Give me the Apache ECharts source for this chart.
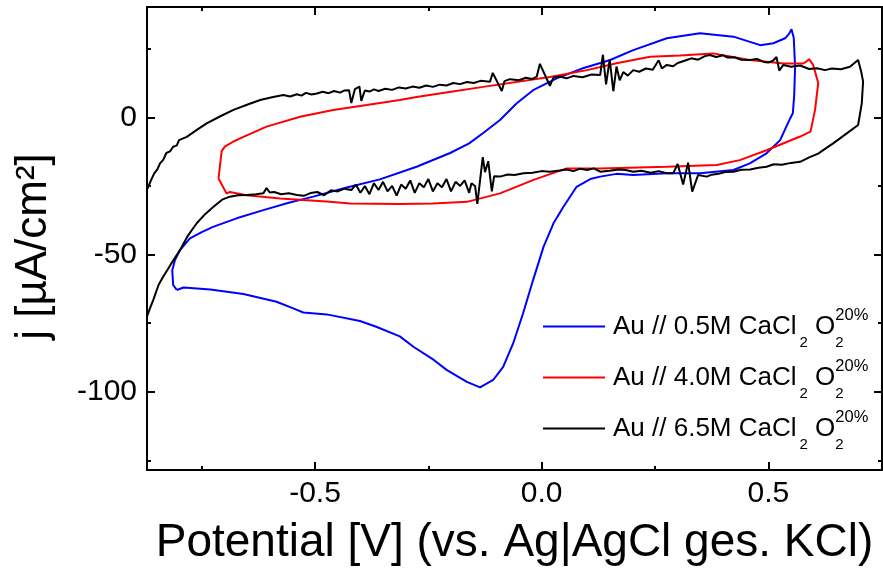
<!DOCTYPE html>
<html>
<head>
<meta charset="utf-8">
<script src="https://cdn.jsdelivr.net/npm/echarts@6/dist/echarts.min.js"></script>
<style>
  html, body { margin: 0; padding: 0; background: #fff; }
  #chart { width: 883px; height: 575px; }
</style>
</head>
<body>
<div id="chart"></div>
<script>
// axis ranges and ticks
const xRange = [-0.8707, 0.7507];
const yRange = [-128.5, 40.2];
const xMajor = [-0.5, 0, 0.5];
const xMinor = [-0.75, -0.25, 0.25, 0.75];
const yMajor = [-100, -50, 0];
const yMinor = [-125, -75, -25, 25];

const seriesNames = ["0.5M", "4.0M", "6.5M"];
const seriesColors = ["#0000ff", "#ff0000", "#000000"];

// [potential V, j µA/cm²] in scan order
// Au // 0.5M CaCl2
const blue = [
  [-0.805, -62.9], [-0.813, -61.1], [-0.815, -55.7], [-0.809, -52.0], [-0.798, -48.4], [-0.776, -44.1],
  [-0.750, -41.8], [-0.725, -39.9], [-0.673, -36.8], [-0.614, -33.8], [-0.560, -31.2], [-0.504, -28.9],
  [-0.430, -25.6], [-0.357, -22.6], [-0.276, -18.0], [-0.202, -13.0], [-0.160, -9.5], [-0.129, -5.7],
  [-0.092, -1.0], [-0.055, 5.1], [-0.019, 9.9], [0.033, 14.2], [0.091, 17.9], [0.151, 20.9],
  [0.202, 24.5], [0.276, 28.8], [0.349, 30.6], [0.423, 29.4], [0.482, 26.3], [0.511, 27.0],
  [0.537, 28.8], [0.546, 30.5], [0.551, 32.1], [0.556, 29.0], [0.559, 18.4], [0.557, 8.0],
  [0.554, 1.5], [0.548, -0.4], [0.526, -8.3], [0.496, -13.1], [0.459, -16.8], [0.423, -19.2],
  [0.349, -20.4], [0.276, -20.4], [0.202, -21.0], [0.165, -20.6], [0.129, -21.6], [0.107, -22.5],
  [0.077, -25.3], [0.048, -32.6], [0.026, -38.6], [0.004, -47.2], [-0.019, -59.3], [-0.041, -71.4],
  [-0.063, -82.4], [-0.085, -90.9], [-0.107, -95.7], [-0.136, -98.4], [-0.165, -96.4], [-0.209, -92.1],
  [-0.238, -88.4], [-0.283, -83.6], [-0.313, -79.8], [-0.365, -76.3], [-0.401, -74.2], [-0.474, -71.8],
  [-0.526, -71.1], [-0.548, -69.6], [-0.585, -67.2], [-0.658, -64.4], [-0.731, -62.7], [-0.790, -62.0],
  [-0.805, -62.9],
];

// Au // 4.0M CaCl2
const red = [
  [-0.713, -22.3], [-0.706, -12.3], [-0.699, -10.7], [-0.680, -8.8], [-0.658, -7.1], [-0.607, -3.4],
  [-0.533, 0.2], [-0.460, 2.7], [-0.386, 4.5], [-0.313, 6.3], [-0.276, 7.4], [-0.200, 9.3],
  [-0.129, 11.1], [0.018, 14.7], [0.100, 17.2], [0.165, 19.7], [0.239, 22.1], [0.305, 22.5],
  [0.378, 23.3], [0.459, 20.9], [0.533, 19.6], [0.577, 19.6], [0.585, 20.5], [0.590, 21.2],
  [0.599, 19.0], [0.610, 12.5], [0.603, 2.7], [0.593, -5.2], [0.570, -7.0], [0.496, -12.0],
  [0.437, -15.6], [0.386, -17.4], [0.276, -18.0], [0.129, -18.6], [0.055, -18.6], [-0.018, -22.8],
  [-0.092, -27.7], [-0.165, -30.8], [-0.240, -31.4], [-0.313, -31.6], [-0.423, -31.4], [-0.467, -30.8],
  [-0.577, -29.6], [-0.651, -28.4], [-0.688, -27.2], [-0.695, -27.8], [-0.713, -22.3],
];

// Au // 6.5M CaCl2
const black = [
  [-0.878, -30.0], [-0.871, -26.5], [-0.862, -23.0], [-0.855, -20.5], [-0.848, -19.0], [-0.842, -16.8],
  [-0.835, -15.5], [-0.828, -13.0], [-0.820, -12.4], [-0.813, -10.7], [-0.805, -10.2], [-0.800, -8.3],
  [-0.783, -7.1], [-0.760, -4.5], [-0.739, -2.2], [-0.710, 0.3], [-0.680, 2.7], [-0.650, 4.6],
  [-0.621, 6.3], [-0.595, 7.3], [-0.570, 8.1], [-0.555, 7.6], [-0.540, 8.4], [-0.530, 7.9],
  [-0.520, 8.9], [-0.508, 8.3], [-0.496, 8.7], [-0.483, 9.3], [-0.470, 8.8], [-0.458, 9.6],
  [-0.445, 9.0], [-0.435, 9.8], [-0.425, 9.9], [-0.420, 5.2], [-0.412, 10.3], [-0.402, 11.2],
  [-0.398, 6.0], [-0.390, 9.8], [-0.380, 9.4], [-0.370, 10.2], [-0.360, 9.6], [-0.345, 10.4],
  [-0.330, 10.0], [-0.315, 10.9], [-0.300, 10.5], [-0.285, 11.2], [-0.270, 10.8], [-0.255, 11.6],
  [-0.240, 11.1], [-0.225, 11.9], [-0.210, 11.6], [-0.195, 12.5], [-0.180, 12.1], [-0.165, 12.9],
  [-0.150, 12.5], [-0.135, 13.3], [-0.114, 13.0], [-0.108, 16.2], [-0.088, 9.6], [-0.082, 13.2],
  [-0.070, 13.9], [-0.050, 13.5], [-0.035, 14.4], [-0.020, 14.0], [-0.011, 14.8], [-0.004, 19.5],
  [0.018, 11.5], [0.026, 14.5], [0.040, 14.9], [0.055, 14.2], [0.070, 15.1], [0.090, 14.6],
  [0.110, 15.6], [0.129, 15.4], [0.135, 22.8], [0.142, 12.0], [0.150, 21.0], [0.158, 9.5],
  [0.165, 18.5], [0.172, 13.5], [0.180, 16.5], [0.190, 15.2], [0.202, 17.2], [0.215, 16.6],
  [0.230, 17.8], [0.245, 17.3], [0.258, 20.8], [0.265, 17.8], [0.276, 19.1], [0.290, 18.6],
  [0.300, 19.8], [0.315, 20.6], [0.330, 21.5], [0.345, 21.0], [0.360, 22.3], [0.371, 22.7],
  [0.385, 22.0], [0.400, 22.6], [0.410, 21.8], [0.425, 21.9], [0.440, 21.0], [0.459, 20.9],
  [0.475, 21.3], [0.490, 20.2], [0.500, 20.0], [0.510, 20.6], [0.518, 22.0], [0.524, 17.0],
  [0.533, 19.1], [0.550, 18.4], [0.570, 18.9], [0.590, 17.6], [0.607, 17.9], [0.625, 17.2],
  [0.640, 17.8], [0.660, 17.5], [0.680, 18.4], [0.698, 20.9], [0.705, 16.5], [0.709, 13.0],
  [0.706, 5.0], [0.698, -2.8], [0.670, -6.2], [0.643, -9.5], [0.625, -11.5], [0.610, -13.2],
  [0.590, -14.6], [0.570, -16.2], [0.550, -16.6], [0.530, -17.3], [0.512, -17.1], [0.496, -18.0],
  [0.478, -18.4], [0.460, -19.0], [0.440, -19.1], [0.423, -19.8], [0.405, -19.9], [0.390, -20.6],
  [0.375, -20.9], [0.364, -21.6], [0.345, -21.0], [0.332, -27.1], [0.323, -16.5], [0.312, -24.5],
  [0.300, -17.0], [0.290, -20.4], [0.276, -20.4], [0.258, -19.6], [0.240, -20.2], [0.220, -19.5],
  [0.202, -19.8], [0.185, -19.2], [0.170, -19.0], [0.150, -19.5], [0.129, -19.8], [0.115, -18.6],
  [0.100, -19.2], [0.085, -18.7], [0.070, -19.6], [0.055, -19.0], [0.040, -19.4], [0.018, -19.8],
  [0.000, -19.6], [-0.020, -20.2], [-0.040, -20.4], [-0.060, -21.0], [-0.075, -20.8], [-0.092, -21.6],
  [-0.105, -21.5], [-0.110, -27.0], [-0.118, -16.0], [-0.125, -20.0], [-0.130, -14.5], [-0.142, -31.5],
  [-0.147, -25.0], [-0.155, -24.0], [-0.160, -27.5], [-0.170, -23.0], [-0.180, -25.0], [-0.190, -23.5],
  [-0.200, -27.0], [-0.210, -22.5], [-0.220, -25.5], [-0.230, -24.0], [-0.240, -27.0], [-0.250, -22.5],
  [-0.260, -25.5], [-0.270, -24.0], [-0.280, -27.5], [-0.290, -23.0], [-0.300, -26.0], [-0.310, -24.5],
  [-0.320, -28.5], [-0.330, -25.0], [-0.340, -27.0], [-0.350, -23.5], [-0.360, -26.5], [-0.370, -24.0],
  [-0.380, -28.0], [-0.390, -25.0], [-0.400, -27.5], [-0.410, -24.5], [-0.420, -26.5], [-0.435, -26.0],
  [-0.450, -27.0], [-0.465, -26.6], [-0.480, -28.4], [-0.495, -27.2], [-0.510, -27.6], [-0.525, -28.6],
  [-0.540, -28.3], [-0.558, -27.7], [-0.575, -28.0], [-0.590, -27.2], [-0.600, -27.4], [-0.607, -25.8],
  [-0.614, -27.7], [-0.630, -28.0], [-0.650, -28.3], [-0.670, -28.4], [-0.688, -28.9], [-0.705, -30.0],
  [-0.724, -32.6], [-0.742, -35.2], [-0.761, -38.6], [-0.780, -43.0], [-0.798, -48.4], [-0.818, -53.5],
  [-0.835, -58.1], [-0.845, -61.0], [-0.857, -66.6], [-0.864, -69.5], [-0.871, -72.7], [-0.878, -76.0],
];

const FONT = "'Liberation Sans', Arial, sans-serif";

function axis(kind, position, ticks, tickLen, withLine, extra) {
  const range = kind === "x" ? xRange : yRange;
  return Object.assign({
    type: "value",
    position,
    min: range[0],
    max: range[1],
    axisLine: { show: withLine, onZero: false, lineStyle: { color: "#000", width: 2 } },
    axisTick: { show: true, inside: true, length: tickLen, customValues: ticks, lineStyle: { color: "#000", width: 2 } },
    axisLabel: { show: false },
    splitLine: { show: false },
  }, extra || {});
}

const txt = { fontFamily: FONT, color: "#000" };

const chart = echarts.init(document.getElementById("chart"), null, { renderer: "canvas" });

chart.setOption({
  animation: false,
  backgroundColor: "#fff",
  textStyle: txt,
  grid: { left: 147, right: 1, top: 7, bottom: 105 },
  xAxis: [
    axis("x", "bottom", xMajor, 8, true, {
      axisLabel: {
        ...txt, show: true, customValues: xMajor, margin: 9, fontSize: 30,
        formatter: (v) => v.toFixed(1),
      },
      name: "Potential [V] (vs. Ag|AgCl ges. KCl)",
      nameLocation: "middle",
      nameGap: 50,
      nameTextStyle: { ...txt, fontSize: 46 },
    }),
    axis("x", "bottom", xMinor, 4, false),
    axis("x", "top", xMajor, 8, true),
    axis("x", "top", xMinor, 4, false),
  ],
  yAxis: [
    axis("y", "left", yMajor, 8, true, {
      axisLabel: {
        ...txt, show: true, customValues: yMajor, margin: 10, fontSize: 30,
        formatter: (v) => String(v),
      },
      name: "j [µA/cm²]",
      nameLocation: "middle",
      nameGap: 91,
      nameTextStyle: { ...txt, fontSize: 44, padding: [0, 16, 0, 0] },
    }),
    axis("y", "left", yMinor, 4, false),
    axis("y", "right", yMajor, 8, true),
    axis("y", "right", yMinor, 4, false),
  ],
  legend: {
    orient: "vertical",
    left: 538,
    top: 302,
    icon: "rect",
    itemWidth: 62,
    itemHeight: 2,
    itemGap: 8,
    selectedMode: false,
    data: seriesNames,
    // subscript / superscript shifted with token padding, "t" has zero width so "20%" stacks over it
    formatter: (name) => `{f|Au // ${name} CaCl}{s|2}{a| O}{t|2}{p|20%}`,
    textStyle: {
      ...txt,
      rich: {
        f: { ...txt, fontSize: 26, padding: [0, 0, 0, 3] },
        a: { ...txt, fontSize: 26 },
        s: { ...txt, fontSize: 15, padding: [32, 0, 0, 3] },
        t: { ...txt, fontSize: 15, padding: [32, 0, 0, 0], width: 0 },
        p: { ...txt, fontSize: 16.5, padding: [0, 0, 22, 0] },
      },
    },
  },
  series: [blue, red, black].map((pts, i) => ({
    name: seriesNames[i],
    type: "line",
    data: pts,
    xAxisIndex: 0,
    yAxisIndex: 0,
    symbol: "none",
    smooth: false,
    clip: true,
    color: seriesColors[i],
    lineStyle: { color: seriesColors[i], width: 2 },
  })),
});
</script>
</body>
</html>
